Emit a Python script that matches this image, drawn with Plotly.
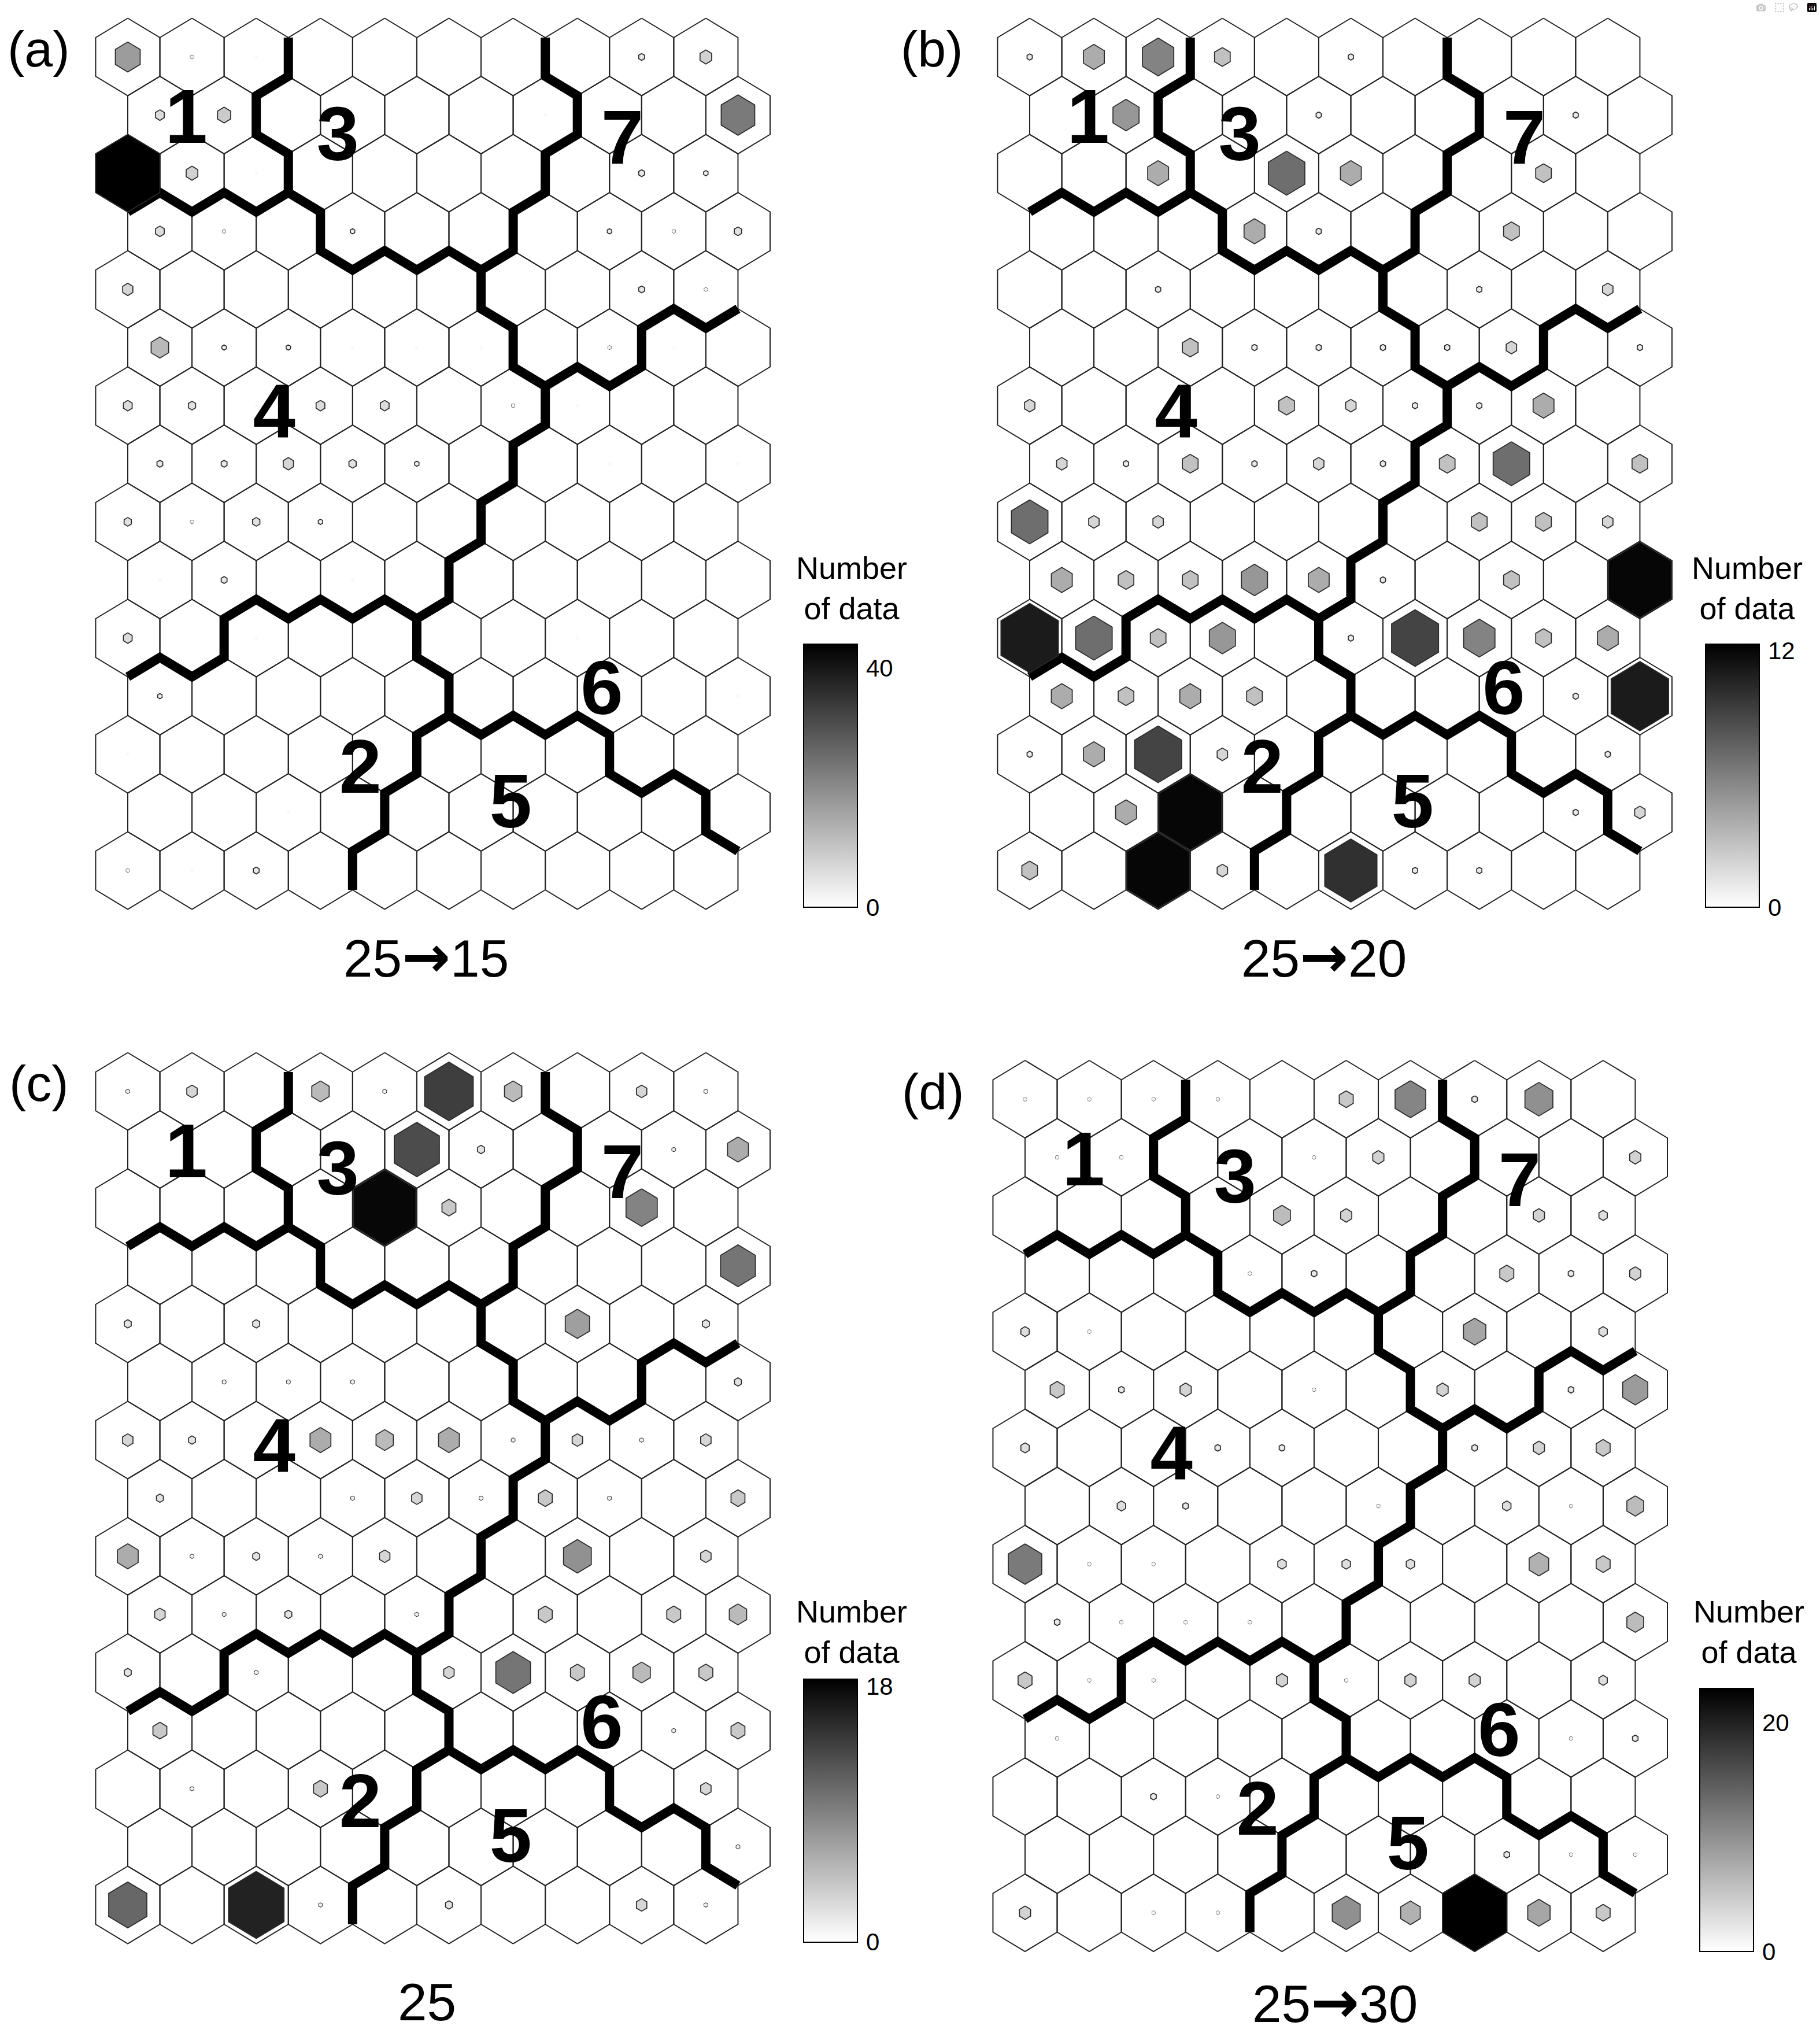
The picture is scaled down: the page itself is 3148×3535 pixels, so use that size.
import plotly.graph_objects as go
from collections import defaultdict

W, H = 3148, 3535
CX, RY = 111.1, 100.5          # pixel size of one column step / one row step
NR, NC = 15, 10
FONT = "Liberation Sans, Arial, Helvetica, sans-serif"

# ---------------- data ----------------
clusters = [
    [1, 1, 1, 3, 3, 3, 3, 7, 7, 7],
    [1, 1, 3, 3, 3, 3, 3, 7, 7, 7],
    [1, 1, 1, 3, 3, 3, 3, 7, 7, 7],
    [4, 4, 4, 3, 3, 3, 7, 7, 7, 7],
    [4, 4, 4, 4, 4, 4, 7, 7, 7, 7],
    [4, 4, 4, 4, 4, 4, 7, 7, 6, 6],
    [4, 4, 4, 4, 4, 4, 4, 6, 6, 6],
    [4, 4, 4, 4, 4, 4, 6, 6, 6, 6],
    [4, 4, 4, 4, 4, 4, 6, 6, 6, 6],
    [4, 4, 4, 4, 4, 6, 6, 6, 6, 6],
    [4, 4, 2, 2, 2, 6, 6, 6, 6, 6],
    [2, 2, 2, 2, 2, 6, 6, 6, 6, 6],
    [2, 2, 2, 2, 2, 5, 5, 5, 6, 6],
    [2, 2, 2, 2, 5, 5, 5, 5, 5, 6],
    [2, 2, 2, 2, 5, 5, 5, 5, 5, 5],
]

hits_a = [
    [17, 2, 1, 0, 0, 0, 0, 0, 4, 8],
    [6, 9, 0, 0, 0, 0, 1, 0, 0, 23],
    [44, 8, 1, 0, 0, 0, 0, 0, 4, 3],
    [6, 2, 0, 3, 0, 0, 0, 3, 2, 5],
    [7, 0, 0, 0, 0, 0, 0, 0, 4, 2],
    [12, 3, 3, 1, 1, 1, 0, 2, 1, 0],
    [6, 5, 1, 6, 6, 0, 2, 1, 0, 0],
    [4, 4, 7, 5, 3, 0, 0, 1, 0, 1],
    [5, 2, 5, 3, 0, 0, 0, 0, 0, 0],
    [1, 4, 0, 1, 0, 0, 0, 0, 0, 0],
    [6, 0, 1, 0, 0, 0, 0, 1, 0, 0],
    [3, 0, 0, 0, 0, 0, 0, 0, 0, 1],
    [1, 0, 0, 0, 0, 0, 0, 0, 0, 0],
    [0, 0, 1, 0, 0, 0, 0, 0, 0, 0],
    [2, 1, 4, 0, 0, 0, 0, 0, 0, 0],
]

hits_b = [
    [1, 4, 6, 3, 0, 1, 0, 0, 0, 0],
    [0, 5, 0, 0, 1, 0, 0, 0, 1, 0],
    [0, 0, 4, 0, 7, 4, 0, 0, 3, 0],
    [0, 0, 0, 4, 1, 0, 0, 3, 0, 0],
    [0, 0, 1, 0, 0, 0, 0, 1, 0, 2],
    [0, 0, 3, 1, 1, 1, 1, 2, 0, 1],
    [2, 0, 0, 0, 3, 2, 1, 1, 4, 0],
    [2, 1, 3, 1, 2, 1, 3, 7, 0, 3],
    [7, 2, 2, 0, 0, 0, 0, 3, 3, 2],
    [4, 3, 3, 5, 4, 1, 0, 3, 0, 12],
    [11, 7, 3, 5, 0, 1, 9, 6, 3, 4],
    [4, 3, 4, 3, 0, 0, 0, 0, 1, 11],
    [1, 4, 9, 2, 0, 0, 0, 0, 0, 1],
    [0, 4, 12, 0, 0, 0, 0, 0, 1, 2],
    [3, 0, 12, 2, 0, 10, 1, 1, 0, 0],
]

hits_c = [
    [1, 3, 0, 5, 1, 14, 5, 0, 3, 1],
    [0, 0, 0, 0, 13, 2, 0, 0, 1, 6],
    [0, 0, 0, 0, 18, 4, 0, 0, 9, 0],
    [0, 0, 0, 0, 0, 0, 0, 0, 0, 10],
    [2, 0, 2, 0, 0, 0, 0, 7, 0, 2],
    [0, 1, 1, 1, 0, 0, 0, 0, 0, 2],
    [3, 2, 0, 6, 5, 6, 1, 3, 1, 3],
    [2, 0, 0, 1, 3, 1, 4, 1, 0, 4],
    [6, 1, 2, 1, 3, 0, 0, 8, 0, 3],
    [3, 1, 2, 0, 1, 0, 4, 0, 4, 5],
    [2, 0, 1, 0, 0, 3, 10, 4, 5, 4],
    [4, 0, 0, 0, 0, 0, 0, 0, 1, 4],
    [0, 1, 0, 4, 0, 0, 0, 0, 0, 3],
    [0, 0, 0, 0, 0, 0, 0, 0, 0, 1],
    [11, 0, 16, 1, 0, 2, 0, 0, 3, 1],
]

hits_d = [
    [1, 1, 1, 1, 0, 5, 11, 2, 10, 0],
    [1, 1, 0, 0, 1, 4, 0, 0, 0, 4],
    [0, 0, 0, 0, 6, 4, 0, 0, 4, 3],
    [0, 0, 0, 1, 2, 0, 0, 5, 2, 4],
    [3, 1, 0, 0, 0, 0, 0, 8, 0, 3],
    [5, 2, 4, 0, 1, 0, 4, 0, 2, 9],
    [3, 0, 0, 2, 2, 0, 0, 2, 4, 5],
    [0, 3, 2, 0, 0, 1, 0, 3, 1, 6],
    [12, 1, 1, 0, 3, 3, 3, 0, 7, 5],
    [2, 1, 1, 1, 0, 0, 0, 0, 0, 6],
    [5, 1, 1, 0, 4, 1, 4, 4, 0, 3],
    [1, 0, 0, 0, 0, 0, 0, 0, 1, 2],
    [0, 0, 2, 1, 0, 0, 0, 0, 0, 0],
    [0, 0, 0, 0, 0, 0, 0, 2, 1, 1],
    [4, 0, 1, 1, 0, 10, 7, 23, 8, 5],
]

panel_letters = ["(a)", "(b)", "(c)", "(d)"]
caption_left = ["25", "25", "25", "25"]
caption_right = ["15", "20", "", "30"]
cbar_max = [44, 12.3, 18.5, 23]
cbar_ticks = [[0, 40], [0, 12], [0, 18], [0, 20]]
cluster_names = ["1", "3", "7", "4", "6", "2", "5"]
label_col = [0.91, 3.27, 7.70, 2.28, 7.38, 3.62, 5.96]
label_row = [1.15, 1.45, 1.51, 6.21, 10.98, 12.33, 12.93]

# ---------------- layout positions (pixels) ----------------
origins = [(221, 98.5), (1781, 98.5), (221, 1887.5), (1773, 1901)]
caption_pos = [(737, 1654), (2290, 1654), (738, 3462), (2309, 3462)]
letter_pos = [(67, 84), (1612, 84), (67, 1873), (1614, 1887)]
title_pos = [(1473, 1017), (3022, 1017), (1473, 2822), (3025, 2822)]
cbar_left = [1390, 2950, 1390, 2940]
cbar_top = [1114, 1114, 2903.5, 2920]
CB_THICK, CB_LEN = 93, 455
XR = (-1.0, 10.2)
YR = (-14.8, 0.9)

hits_all = [hits_a, hits_b, hits_c, hits_d]


def cell_xy(r, c):
    return c + 0.5 * (r % 2), -r


def hex_pts(x, y, s=1.0):
    return [(x, y + 2 / 3 * s), (x + 0.5 * s, y + 1 / 3 * s), (x + 0.5 * s, y - 1 / 3 * s),
            (x, y - 2 / 3 * s), (x - 0.5 * s, y - 1 / 3 * s), (x - 0.5 * s, y + 1 / 3 * s)]


# boundary edges between differing clusters, chained into polylines
def vkey(p):
    return (round(p[0] * 2), round(p[1] * 3))


adj = defaultdict(list)
for r in range(NR):
    for c in range(NC):
        x, y = cell_xy(r, c)
        P = hex_pts(x, y)
        k = clusters[r][c]
        pairs = []
        if c + 1 < NC and clusters[r][c + 1] != k:
            pairs.append((P[1], P[2]))
        if r + 1 < NR:
            if r % 2 == 0:
                ll, lr = c - 1, c
            else:
                ll, lr = c, c + 1
            if 0 <= lr < NC and clusters[r + 1][lr] != k:
                pairs.append((P[2], P[3]))
            if 0 <= ll < NC and clusters[r + 1][ll] != k:
                pairs.append((P[3], P[4]))
        for a, b in pairs:
            ka, kb = vkey(a), vkey(b)
            adj[ka].append(kb)
            adj[kb].append(ka)

used = set()
paths = []
for s in [v for v in adj if len(adj[v]) != 2]:
    for n in adj[s]:
        e = frozenset((s, n))
        if e in used:
            continue
        used.add(e)
        path = [s, n]
        prev, cur = s, n
        while len(adj[cur]) == 2:
            nxt = adj[cur][1] if adj[cur][0] == prev else adj[cur][0]
            e = frozenset((cur, nxt))
            if e in used:
                break
            used.add(e)
            path.append(nxt)
            prev, cur = cur, nxt
        paths.append(path)
junctions = [v for v in adj if len(adj[v]) >= 3]

bx, by = [], []
for p in paths:
    for k in p:
        bx.append(k[0] / 2)
        by.append(k[1] / 3)
    bx.append(None)
    by.append(None)

gray_scale = [[0, "rgb(255,255,255)"], [1, "rgb(0,0,0)"]]
BW = 16

fig = go.Figure()
annotations = []
layout_axes = {}

for i in range(4):
    ox, oy = origins[i]
    xa = "x" if i == 0 else f"x{i + 1}"
    ya = "y" if i == 0 else f"y{i + 1}"
    xname = "xaxis" if i == 0 else f"xaxis{i + 1}"
    yname = "yaxis" if i == 0 else f"yaxis{i + 1}"
    layout_axes[xname] = dict(domain=[(ox + XR[0] * CX) / W, (ox + XR[1] * CX) / W],
                              range=list(XR), visible=False, fixedrange=True, anchor=ya)
    layout_axes[yname] = dict(domain=[1 - (oy - YR[0] * RY) / H, 1 - (oy - YR[1] * RY) / H],
                              range=list(YR), visible=False, fixedrange=True, anchor=xa)

    # grid outline
    gx, gy = [], []
    for r in range(NR):
        for c in range(NC):
            x, y = cell_xy(r, c)
            pts = hex_pts(x, y)
            pts.append(pts[0])
            gx += [p[0] for p in pts] + [None]
            gy += [p[1] for p in pts] + [None]
    fig.add_trace(go.Scatter(x=gx, y=gy, mode="lines", line=dict(color="#222222", width=2),
                             xaxis=xa, yaxis=ya, hoverinfo="skip", showlegend=False))

    # cluster boundaries
    fig.add_trace(go.Scatter(x=bx, y=by, mode="lines", line=dict(color="black", width=BW),
                             xaxis=xa, yaxis=ya, hoverinfo="skip", showlegend=False))
    fig.add_trace(go.Scatter(x=[k[0] / 2 for k in junctions], y=[k[1] / 3 for k in junctions],
                             mode="markers", marker=dict(color="black", size=BW, line=dict(width=0)),
                             xaxis=xa, yaxis=ya, hoverinfo="skip", showlegend=False))

    # hit hexagons
    M = cbar_max[i]
    hx, hy, hv = [], [], []
    for r in range(NR):
        for c in range(NC):
            h = hits_all[i][r][c]
            if h <= 0:
                continue
            x, y = cell_xy(r, c)
            s = min(h / M, 1.0)
            g = int(round(255 * (1 - s)))
            pts = hex_pts(x, y, s)
            pts.append(pts[0])
            fig.add_trace(go.Scatter(x=[p[0] for p in pts], y=[p[1] for p in pts], mode="lines",
                                     fill="toself", fillcolor=f"rgb({g},{g},{g})",
                                     line=dict(color="#2a2a2a", width=1.7),
                                     xaxis=xa, yaxis=ya, hoverinfo="skip", showlegend=False))
            hx.append(x)
            hy.append(y)
            hv.append(h)

    # colour bar carrier
    fig.add_trace(go.Scatter(
        x=hx, y=hy, mode="markers", xaxis=xa, yaxis=ya, hoverinfo="skip", showlegend=False,
        marker=dict(size=0, color=hv, cmin=0, cmax=M, colorscale=gray_scale, showscale=True,
                    colorbar=dict(thicknessmode="pixels", thickness=CB_THICK,
                                  lenmode="pixels", len=CB_LEN,
                                  x=cbar_left[i] / W, xanchor="left", xpad=0,
                                  y=1 - (cbar_top[i] + CB_LEN / 2) / H, yanchor="middle", ypad=0,
                                  outlinewidth=2, outlinecolor="black", borderwidth=0,
                                  tickvals=cbar_ticks[i], ticktext=[str(t) for t in cbar_ticks[i]],
                                  ticks="outside", ticklen=6, tickcolor="rgba(0,0,0,0)",
                                  tickfont=dict(size=42, family=FONT, color="black")))))

    # cluster numbers
    fig.add_trace(go.Scatter(x=label_col, y=[-v for v in label_row], mode="text", text=cluster_names,
                             textposition="middle center",
                             textfont=dict(size=132, family=FONT, color="black", weight="bold"),
                             xaxis=xa, yaxis=ya, hoverinfo="skip", showlegend=False))

    # texts in paper coordinates
    annotations.append(dict(text=panel_letters[i], x=letter_pos[i][0] / W, y=1 - letter_pos[i][1] / H,
                            xref="paper", yref="paper", xanchor="center", yanchor="middle",
                            showarrow=False, font=dict(size=88, family=FONT, color="black")))
    if caption_right[i]:
        cap = (caption_left[i]
               + '<span style="font-family:DejaVu Sans;font-weight:bold;font-size:100px">\u2192</span>'
               + caption_right[i])
    else:
        cap = caption_left[i]
    annotations.append(dict(text=cap, x=caption_pos[i][0] / W, y=1 - caption_pos[i][1] / H,
                            xref="paper", yref="paper", xanchor="center", yanchor="middle",
                            showarrow=False, font=dict(size=91, family=FONT, color="black")))
    annotations.append(dict(text="Number<br>of data", x=title_pos[i][0] / W, y=1 - title_pos[i][1] / H,
                            xref="paper", yref="paper", xanchor="center", yanchor="middle",
                            align="center", showarrow=False,
                            font=dict(size=54, family=FONT, color="black")))

fig.update_layout(width=W, height=H, margin=dict(l=0, r=0, t=0, b=0, pad=0),
                  paper_bgcolor="white", plot_bgcolor="white", showlegend=False,
                  annotations=annotations, **layout_axes)

fig.write_html("out.html", post_script="document.body.style.margin='0px';")
